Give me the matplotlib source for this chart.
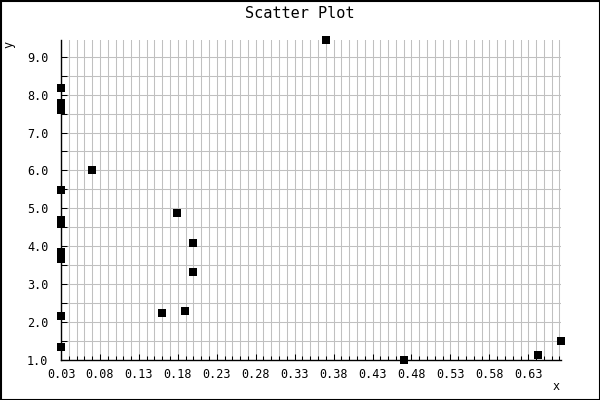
import matplotlib
matplotlib.use("Agg")
import matplotlib.pyplot as plt
from matplotlib.ticker import FixedLocator, FormatStrFormatter
from matplotlib.patches import Rectangle
import numpy as np

x_vals = [0.3706, 0.03, 0.03, 0.03, 0.0698, 0.03, 0.03, 0.03, 0.03, 0.03,
          0.03, 0.03, 0.1795, 0.200, 0.200, 0.160, 0.1898, 0.471, 0.642, 0.672]
y_vals = [9.44, 8.18, 7.77, 7.60, 6.01, 5.49, 4.69, 4.575, 3.85, 3.66,
          2.15, 1.34, 4.87, 4.08, 3.31, 2.23, 2.29, 1.00, 1.13, 1.50]
x_ticks = [0.03, 0.08, 0.13, 0.18, 0.23, 0.28, 0.33, 0.38, 0.43, 0.48, 0.53, 0.58, 0.63]
y_ticks = [1.0, 2.0, 3.0, 4.0, 5.0, 6.0, 7.0, 8.0, 9.0]

font = "DejaVu Sans Mono"
plt.rcParams['font.family'] = font

fig = plt.figure(figsize=(6, 4), dpi=100)
ax = fig.add_axes([61/600, 1-360/400, 500/600, 320/400])

ax.scatter(x_vals, y_vals, marker='s', s=28, color='black', zorder=5, clip_on=False, linewidths=0)

ax.set_xlim(min(x_vals), max(x_vals))
ax.set_ylim(min(y_vals), max(y_vals))

ax.xaxis.set_major_locator(FixedLocator(x_ticks))
ax.xaxis.set_minor_locator(FixedLocator(list(np.round(np.arange(0.03, 0.6725, 0.01), 4))))
ax.yaxis.set_major_locator(FixedLocator(y_ticks))
ax.yaxis.set_minor_locator(FixedLocator(list(np.arange(1.0, 9.45, 0.5))))
ax.xaxis.set_major_formatter(FormatStrFormatter('%.2f'))
ax.yaxis.set_major_formatter(FormatStrFormatter('%.1f'))

ax.grid(True, which='both', color='#c0c0c0', linewidth=0.75, zorder=0)
ax.set_axisbelow(True)

ax.tick_params(axis='both', which='both', direction='in', color='black', width=0.75)
ax.tick_params(axis='x', which='major', length=4, pad=6, labelsize=8.5)
ax.tick_params(axis='x', which='minor', length=3)
ax.tick_params(axis='y', which='major', length=4, pad=9, labelsize=8.5)
ax.tick_params(axis='y', which='minor', length=4)

for s in ['top', 'right']:
    ax.spines[s].set_visible(False)
for s in ['left', 'bottom']:
    ax.spines[s].set_color('black')
    ax.spines[s].set_linewidth(1.0)

fig.text(0.5, 1-13/400, "Scatter Plot", ha='center', va='center', fontsize=11)
fig.text(9/600, 1-44/400, "y", ha='center', va='center', rotation=90, fontsize=8.5)
fig.text(556/600, 1-386/400, "x", ha='center', va='center', fontsize=8.5)

fig.patches.append(Rectangle((0.5/600, 0.5/400), 599/600, 399/400, transform=fig.transFigure,
                             fill=False, edgecolor='black', linewidth=1.5))

fig.savefig("out.png", dpi=100)
